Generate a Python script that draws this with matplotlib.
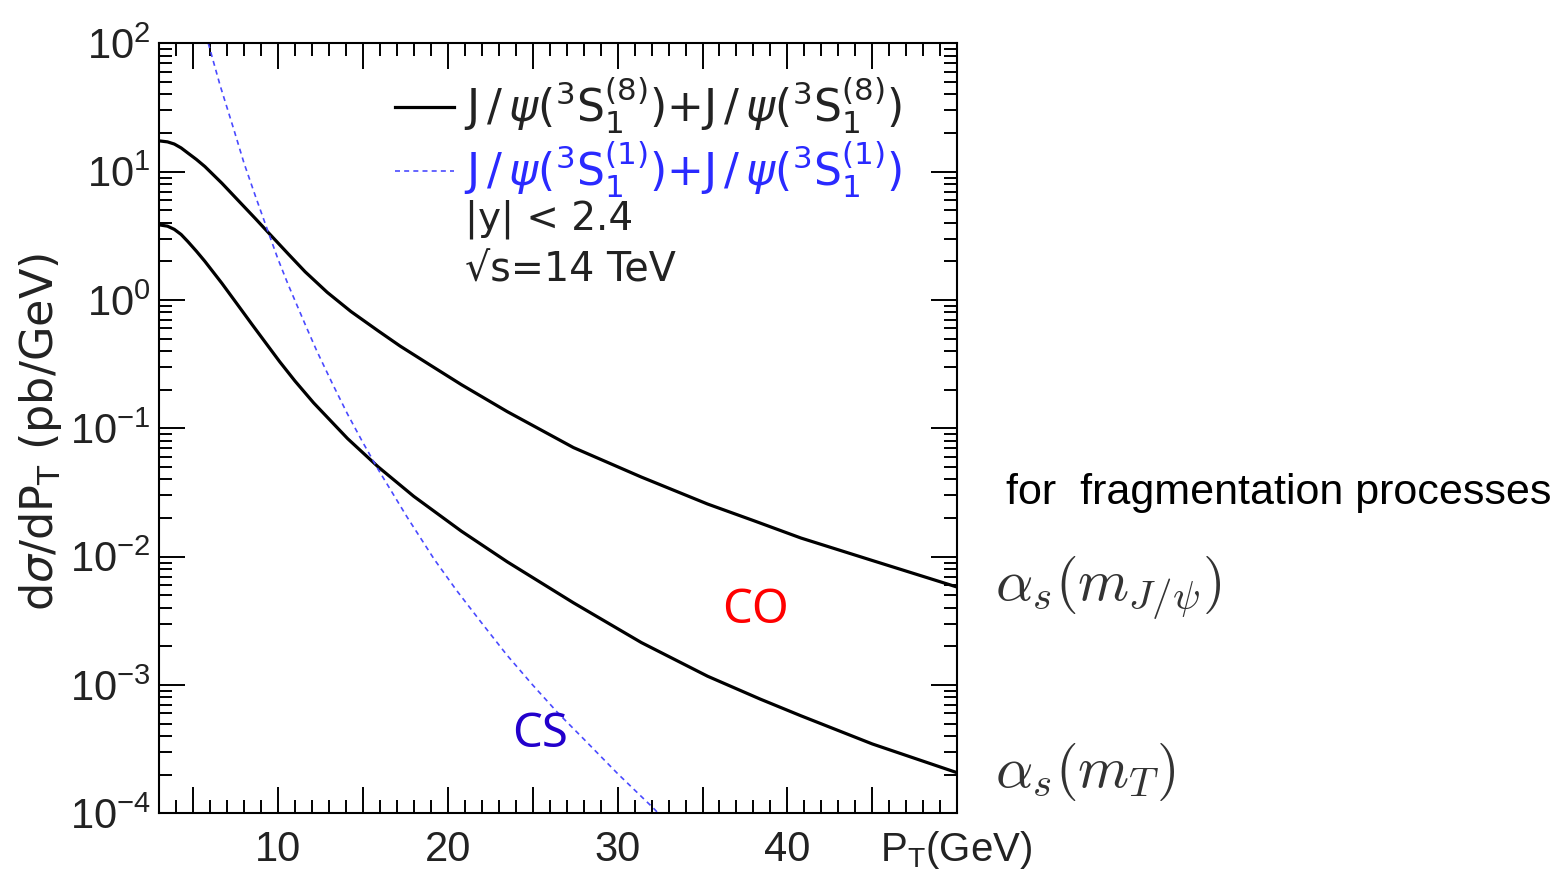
import matplotlib
matplotlib.use("Agg")
import matplotlib.pyplot as plt
import numpy as np
from matplotlib.ticker import LogLocator, NullFormatter, MultipleLocator

plt.rcParams['font.family'] = ['Liberation Sans', 'DejaVu Sans']
plt.rcParams['mathtext.fontset'] = 'custom'
plt.rcParams['mathtext.rm'] = 'Liberation Sans'
plt.rcParams['mathtext.it'] = 'Liberation Sans:italic'
plt.rcParams['mathtext.bf'] = 'Liberation Sans:bold'

# ---- data ----
pt_co_mjpsi = [3.0, 3.5, 3.9, 4.3, 4.7, 5.2, 5.7, 6.2, 6.7, 7.7, 8.7, 9.4, 10.6, 11.6,
               12.9, 14.3, 15.9, 17.2, 19.0, 20.8, 23.5, 27.4, 31.4, 35.3, 38.0, 40.8,
               45.0, 50.0]
xs_co_mjpsi = [17.38, 17.06, 16.41, 15.31, 13.96, 12.45, 10.96, 9.44, 8.13, 5.89, 4.27,
               3.39, 2.29, 1.66, 1.148, 0.813, 0.575, 0.437, 0.309, 0.219, 0.135, 0.0708,
               0.0417, 0.0257, 0.0191, 0.01396, 0.00933, 0.00579]

pt_co_mt = [3.0, 3.5, 3.9, 4.3, 4.7, 5.2, 5.7, 6.7, 7.7, 8.5, 10.1, 11.0, 12.1, 14.1,
            15.9, 18.0, 20.8, 23.5, 27.4, 31.4, 35.3, 38.4, 40.8, 45.0, 50.0]
xs_co_mt = [3.85, 3.76, 3.55, 3.24, 2.85, 2.40, 2.00, 1.35, 0.891, 0.638, 0.331, 0.234,
            0.158, 0.0832, 0.0501, 0.0295, 0.0158, 0.00912, 0.00437, 0.00214, 0.00117,
            0.000776, 0.000575, 0.000347, 0.000207]

pt_cs = [5.9, 6.6, 7.4, 8.0, 8.7, 9.4, 10.0, 10.6, 11.7, 12.3, 13.2, 14.1, 15.0, 15.9,
         17.6, 19.2, 20.5, 21.9, 23.5, 25.0, 26.5, 28.0, 30.0, 32.1, 32.4]
xs_cs = [100.0, 46.8, 21.4, 11.7, 6.31, 3.47, 2.09, 1.32, 0.603, 0.398, 0.224, 0.129,
         0.0776, 0.0479, 0.0204, 0.00955, 0.00550, 0.00316, 0.00170, 0.00100, 0.000603,
         0.000380, 0.000204, 0.000110, 0.000100]

label_co = r'J$\,$/$\,\psi$($^\mathregular{3}$S$_\mathregular{1}^\mathregular{(8)}$)+J$\,$/$\,\psi$($^\mathregular{3}$S$_\mathregular{1}^\mathregular{(8)}$)'
label_cs = r'J$\,$/$\,\psi$($^\mathregular{3}$S$_\mathregular{1}^\mathregular{(1)}$)+J$\,$/$\,\psi$($^\mathregular{3}$S$_\mathregular{1}^\mathregular{(1)}$)'

y_ticks = [1e-4, 1e-3, 1e-2, 1e-1, 1e0, 1e1, 1e2]
y_tick_labels = [r'$10^{-4}$', r'$10^{-3}$', r'$10^{-2}$', r'$10^{-1}$', r'$10^{0}$', r'$10^{1}$', r'$10^{2}$']
x_ticks = [5, 10, 15, 20, 25, 30, 35, 40, 45, 50]
x_tick_labels = ['', '10', '', '20', '', '30', '', '40', '', '']

# ---- figure ----
fig = plt.figure(figsize=(15.53, 8.75), dpi=100)
ax = fig.add_axes([0.1024, 0.0705, 0.5140, 0.8800])

l1, = ax.plot(pt_co_mjpsi, xs_co_mjpsi, color='black', lw=2.3)
ax.plot(pt_co_mt, xs_co_mt, color='black', lw=2.3)
l2, = ax.plot(pt_cs, xs_cs, color='#4a4aff', lw=1.2, linestyle=(0, (3, 2.5)))

ax.set_yscale('log')
ax.set_xlim(3, 50)
ax.set_ylim(1e-4, 1e2)

ax.set_yticks(y_ticks)
ax.set_yticklabels(y_tick_labels)
ax.yaxis.set_minor_locator(LogLocator(base=10, subs=np.arange(2, 10), numticks=30))
ax.yaxis.set_minor_formatter(NullFormatter())
ax.set_xticks(x_ticks)
ax.set_xticklabels(x_tick_labels)
ax.xaxis.set_minor_locator(MultipleLocator(1))

ax.tick_params(which='both', direction='in', top=True, right=True, width=1.4, colors='black')
ax.tick_params(which='major', length=18.5)
ax.tick_params(which='minor', length=9.4)
ax.tick_params(axis='y', which='major', labelsize=30, pad=6, labelcolor='#222222')
ax.tick_params(axis='x', which='major', labelsize=30, pad=12, labelcolor='#222222')
for s in ax.spines.values():
    s.set_linewidth(1.5)

leg = ax.legend([l1, l2], [label_co, label_cs], loc='upper left',
                bbox_to_anchor=(0.296, 0.958), frameon=False,
                prop={'family': 'DejaVu Sans', 'size': 31.8},
                handlelength=1.32, handletextpad=0.23, labelspacing=0.08,
                borderpad=0, borderaxespad=0)
for t in leg.get_texts():
    t.set_math_fontfamily('dejavusans')
leg.get_texts()[0].set_color('#222222')
leg.get_texts()[1].set_color('#2a2aff')

ax.text(0.383, 0.771, '|y| < 2.4', transform=ax.transAxes, fontsize=28,
        ha='left', va='center', color='#222222', family='DejaVu Sans')
ax.text(0.383, 0.7056, '\u221as=14 TeV', transform=ax.transAxes, fontsize=28.5,
        ha='left', va='center', color='#222222', family='DejaVu Sans')

ax.text(0.747, 0.264, 'CO', transform=ax.transAxes, fontsize=34, color='#ff0000',
        ha='center', va='center', family=['Noto Sans', 'DejaVu Sans'])
ax.text(0.477, 0.102, 'CS', transform=ax.transAxes, fontsize=34, color='#2200cc',
        ha='center', va='center', family=['Noto Sans', 'DejaVu Sans'])

fig.text(0.5666, 0.0286, r'P$_\mathregular{T}$(GeV)', fontsize=29, ha='left',
         va='center', color='#222222')
t_y = fig.text(0.0264, 0.506, r'd$\sigma$/dP$_\mathregular{T}$ (pb/GeV)', fontsize=32,
               rotation=90, ha='center', va='center', color='#222222',
               family='DejaVu Sans')
t_y.set_math_fontfamily('dejavusans')

fig.text(0.6478, 0.4366, 'for  fragmentation processes', fontsize=31, ha='left',
         va='center', color='black')
fig.text(0.6405, 0.328, r'$\alpha_s(m_{J/\psi})$', fontsize=42, ha='left',
         va='center', color='#333333', math_fontfamily='cm')
fig.text(0.6405, 0.118, r'$\alpha_s(m_T)$', fontsize=42, ha='left',
         va='center', color='#333333', math_fontfamily='cm')

fig.savefig('out.png', dpi=100)
